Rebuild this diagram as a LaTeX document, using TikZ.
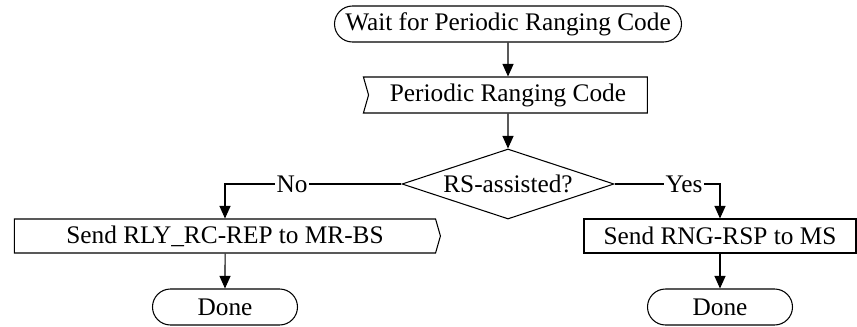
\documentclass[tikz,border=0pt]{standalone}
\usepackage{fontspec}
\setmainfont{Liberation Serif}
\usetikzlibrary{arrows.meta,shapes.geometric,shapes.symbols,positioning}
\tikzset{
  every node/.append style={font=\fontsize{14.4}{16}\selectfont},
  term/.style={draw,rectangle,rounded corners=0.36cm,minimum height=0.72cm,inner sep=0pt},
  recv/.style={draw,signal,signal from=west,signal to=nowhere,signal pointer angle=148,minimum height=0.72cm,inner sep=0pt},
  sendsig/.style={draw,signal,signal to=east,signal pointer angle=148,minimum height=0.68cm,inner sep=0pt},
  proc/.style={draw,rectangle,minimum height=0.68cm,inner sep=0pt},
  decision/.style={draw,diamond,aspect=3,inner sep=0pt,minimum width=4.24cm,minimum height=1.4cm},
  flow/.style={-{Triangle[length=0.25cm,width=0.22cm]},line width=0.6pt},
  lbl/.style={fill=white,inner sep=1pt}
}

\begin{document}
\begin{tikzpicture}[line width=0.6pt]
      \useasboundingbox (0,0) rectangle (17.14,-6.52);
      \node[term,minimum width=6.94cm] at (10.16,-0.48) (start) {Wait for Periodic Ranging Code};
      \node[recv,minimum width=5.68cm] at (10.16,-1.9) (code) {Periodic Ranging Code};
      \node[decision] at (10.16,-3.68) (dec) {RS-assisted?};
      \node[sendsig,minimum width=8.52cm] at (4.5,-4.72) (relay) {Send RLY\_RC-REP to MR-BS};
      \node[proc,minimum width=5.44cm] at (14.4,-4.72) (rsp) {Send RNG-RSP to MS};
      \node[term,minimum width=2.9cm] at (4.5,-6.14) (done1) {Done};
      \node[term,minimum width=2.9cm] at (14.4,-6.14) (done2) {Done};
      \draw[flow] (start)--(code);
      \draw[flow] (code)--(dec);
      \draw[flow] (dec.west) -| (relay.north) node[lbl,pos=0.31] {No};
      \draw[flow] (dec.east) -| (rsp.north) node[lbl,pos=0.33] {Yes};
      \draw[flow] (relay)--(done1);
      \draw[flow] (rsp)--(done2);
\end{tikzpicture}
\end{document}
